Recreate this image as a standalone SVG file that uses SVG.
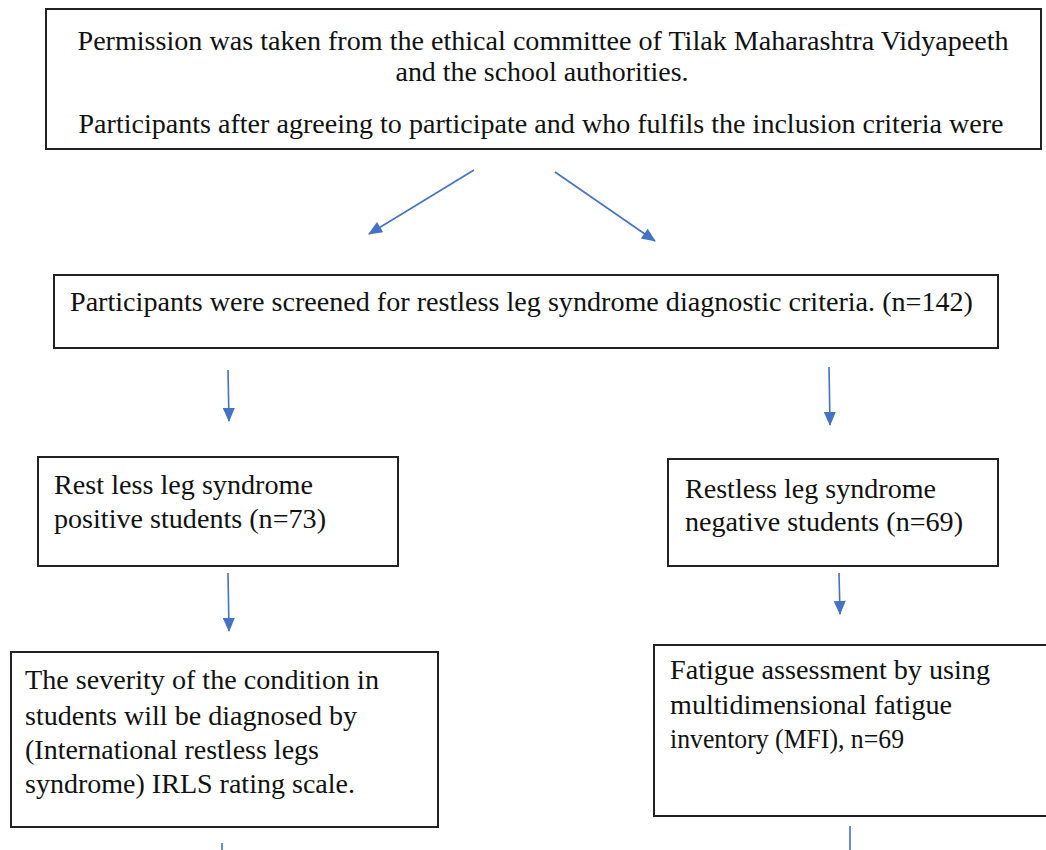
<svg xmlns="http://www.w3.org/2000/svg" width="1046" height="850" viewBox="0 0 1046 850">
<style>
.box{fill:#fff;stroke:#222;stroke-width:2}
.t{font-family:"Liberation Serif",Tinos,"Noto Serif","DejaVu Serif",FreeSerif,"Times New Roman",Times,serif;font-size:27px;fill:#111}
.c{text-anchor:middle}
.arr{stroke:#4472C4;stroke-width:1.6;fill:none;marker-end:url(#ah)}
.stub{stroke:#4472C4;stroke-width:1.6;fill:none}
</style>
<defs>
<marker id="ah" viewBox="-6 -6 22 22" refX="10" refY="5" markerWidth="22" markerHeight="22" markerUnits="userSpaceOnUse" orient="auto">
<path d="M-3,-1 L11,5 L-3,11 z" fill="#4472C4"/>
</marker>
</defs>
<rect width="1046" height="850" fill="#fff"/>
<g id="connectors">
<line class="arr" x1="474" y1="170" x2="369" y2="234"/>
<line class="arr" x1="555" y1="172" x2="655" y2="241"/>
<line class="arr" x1="228" y1="370" x2="229" y2="421"/>
<line class="arr" x1="829" y1="367" x2="830" y2="425"/>
<line class="arr" x1="228" y1="573" x2="229" y2="631"/>
<line class="arr" x1="839" y1="573" x2="840" y2="614"/>
<line class="stub" x1="222" y1="843" x2="222" y2="850"/>
<line class="stub" x1="850" y1="826" x2="850" y2="850"/>
</g>
<g id="node-permission">
<rect class="box" x="46" y="9" width="995" height="140"/>
<text class="t c" x="543" y="50" textLength="931" lengthAdjust="spacingAndGlyphs">Permission was taken from the ethical committee of Tilak Maharashtra Vidyapeeth</text>
<text class="t c" x="542" y="81" textLength="293" lengthAdjust="spacingAndGlyphs">and the school authorities.</text>
<text class="t c" x="541" y="133" textLength="925" lengthAdjust="spacingAndGlyphs">Participants after agreeing to participate and who fulfils the inclusion criteria were</text>
</g>
<g id="node-screened">
<rect class="box" x="54" y="275" width="944" height="73"/>
<text class="t" x="70" y="311" textLength="903" lengthAdjust="spacingAndGlyphs">Participants were screened for restless leg syndrome diagnostic criteria. (n=142)</text>
</g>
<g id="node-positive">
<rect class="box" x="38" y="457" width="360" height="109"/>
<text class="t" x="54" y="494" textLength="259" lengthAdjust="spacingAndGlyphs">Rest less leg syndrome</text>
<text class="t" x="54" y="528" textLength="272" lengthAdjust="spacingAndGlyphs">positive students (n=73)</text>
</g>
<g id="node-negative">
<rect class="box" x="668" y="459" width="330" height="107"/>
<text class="t" x="685" y="498" textLength="251" lengthAdjust="spacingAndGlyphs">Restless leg syndrome</text>
<text class="t" x="685" y="531" textLength="278" lengthAdjust="spacingAndGlyphs">negative students (n=69)</text>
</g>
<g id="node-severity">
<rect class="box" x="11" y="652" width="427" height="175"/>
<text class="t" x="25" y="689" textLength="354" lengthAdjust="spacingAndGlyphs">The severity of the condition in</text>
<text class="t" x="25" y="725" textLength="332" lengthAdjust="spacingAndGlyphs">students will be diagnosed by</text>
<text class="t" x="25" y="759" textLength="294" lengthAdjust="spacingAndGlyphs">(International restless legs</text>
<text class="t" x="25" y="793" textLength="330" lengthAdjust="spacingAndGlyphs">syndrome) IRLS rating scale.</text>
</g>
<g id="node-fatigue">
<rect class="box" x="654" y="645" width="400" height="171"/>
<text class="t" x="670" y="679" textLength="320" lengthAdjust="spacingAndGlyphs">Fatigue assessment by using</text>
<text class="t" x="670" y="714" textLength="282" lengthAdjust="spacingAndGlyphs">multidimensional fatigue</text>
<text class="t" x="670" y="748" textLength="234" lengthAdjust="spacingAndGlyphs">inventory (MFI), n=69</text>
</g>
</svg>
